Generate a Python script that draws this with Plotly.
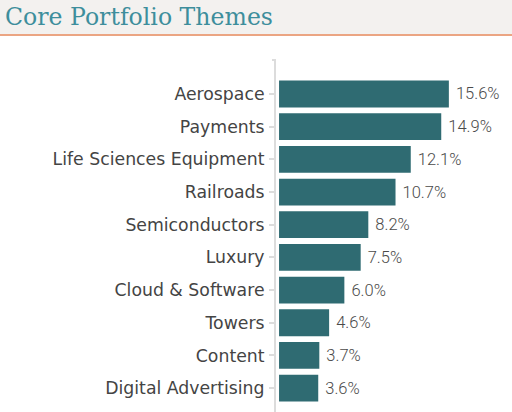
import plotly.graph_objects as go

categories = ["Aerospace", "Payments", "Life Sciences Equipment", "Railroads",
              "Semiconductors", "Luxury", "Cloud & Software", "Towers",
              "Content", "Digital Advertising"]
values = [15.6, 14.9, 12.1, 10.7, 8.2, 7.5, 6.0, 4.6, 3.7, 3.6]

W, H = 512, 412
ML, MR, MT, MB = 276, 0, 60, 0
PW, PH = W - ML - MR, H - MT - MB

bar_color = "#2f6b72"

fig = go.Figure(go.Bar(
    x=values, y=categories, orientation="h",
    marker=dict(color=bar_color, line=dict(width=0)),
    texttemplate="\u00a0%{x:.1f}%", textposition="outside",
    textfont=dict(family="Roboto", size=16.5, color="#4a4a4a", weight=300),
    cliponaxis=False, width=0.82,
))

fig.update_layout(
    width=W, height=H,
    margin=dict(l=ML, r=MR, t=MT, b=MB, pad=0),
    paper_bgcolor="white", plot_bgcolor="white",
    showlegend=False,
    xaxis=dict(range=[-0.28, 21.4], visible=False, fixedrange=True),
    yaxis=dict(
        categoryorder="array", categoryarray=categories,
        range=[9.73, -1.04], fixedrange=True,
        showline=True, linecolor="#dcdcdc", linewidth=2,
        ticks="outside", ticklen=5, tickwidth=2, tickcolor="#dcdcdc",
        tickfont=dict(family="DejaVu Sans", size=17.3, color="#444444"),
        showgrid=False, zeroline=False, ticklabelstandoff=1,
    ),
    title=dict(text="Core Portfolio Themes", xref="container", yref="container",
               x=5 / W, xanchor="left", y=1 - 17 / H, yanchor="middle",
               font=dict(family="DejaVu Serif", size=23.6, color="#3d8e9c")),
)

# header band and orange rule
px = lambda v: (v - ML) / PW
py = lambda v: (H - MB - v) / PH
fig.add_shape(type="rect", xref="paper", yref="paper", x0=px(0), x1=px(W), y0=py(35), y1=py(0),
              fillcolor="#f3f1ef", line=dict(width=0), layer="below")
fig.add_shape(type="line", xref="paper", yref="paper", x0=px(0), x1=px(W), y0=py(35), y1=py(35),
              line=dict(color="#eba583", width=2))
# top hook of axis
fig.add_shape(type="line", xref="paper", yref="paper", x0=px(272), x1=px(276), y0=py(60), y1=py(60),
              line=dict(color="#dcdcdc", width=2))

fig.write_html("out.html", config={"displayModeBar": False, "staticPlot": True},
               post_script="document.body.style.margin='0';document.body.style.overflow='hidden';")
